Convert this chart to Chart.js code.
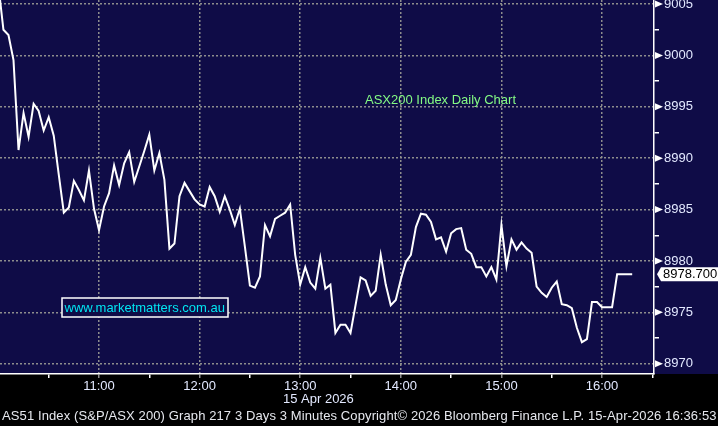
<!DOCTYPE html>
<html lang="en">
<head>
    <meta charset="UTF-8">
    <title>ASX200 Index Daily Chart</title>
    <script src="https://cdn.jsdelivr.net/npm/chart.js"></script>
    <style>
        html, body {
            margin: 0;
            padding: 0;
            background: #000;
        }
        .wrap {
            width: 718px;
            height: 426px;
            position: relative;
        }
    </style>
</head>
<body>
<div class="wrap">
    <canvas id="asx"></canvas>
</div>

<script>
    // 3 minute bars from 10:00, 15 Apr 2026
    const startMinute = 0;      // 10:00
    const stepMinutes = 3;
    const prices = [
        9006.8, 9002.5, 9002.0, 8999.55, 8990.8, 8994.4, 8992.1, 8995.3, 8994.6, 8992.7,
        8994.0, 8992.2, 8988.4, 8984.7, 8985.2, 8987.8, 8986.9, 8985.9, 8988.8, 8985.1,
        8983.0, 8985.3, 8986.6, 8989.3, 8987.4, 8989.5, 8990.6, 8987.7, 8989.2, 8990.7,
        8992.3, 8988.8, 8990.5, 8987.9, 8981.2, 8981.7, 8986.3, 8987.6, 8986.8, 8986.0,
        8985.5, 8985.3, 8987.2, 8986.3, 8984.8, 8986.3, 8985.0, 8983.5, 8985.1, 8981.4,
        8977.6, 8977.4, 8978.5, 8983.5, 8982.4, 8984.1, 8984.4, 8984.7, 8985.5, 8980.6,
        8977.7, 8979.4, 8977.9, 8977.3, 8980.3, 8977.3, 8977.7, 8973.0, 8973.8, 8973.8,
        8973.0, 8975.7, 8978.4, 8978.1, 8976.6, 8977.1, 8980.6, 8977.7, 8975.7, 8976.2,
        8978.2, 8979.9, 8980.6, 8983.3, 8984.6, 8984.5, 8983.8, 8982.1, 8982.3, 8980.9,
        8982.7, 8983.1, 8983.2, 8981.1, 8980.7, 8979.4, 8979.4, 8978.5, 8979.4, 8978.2,
        8983.5, 8979.5, 8982.1, 8981.1, 8981.8, 8981.2, 8980.8, 8977.5, 8976.9, 8976.5,
        8977.4, 8978.0, 8975.8, 8975.7, 8975.4, 8973.5, 8972.1, 8972.4, 8976.0, 8976.0,
        8975.5, 8975.5, 8975.5, 8978.7, 8978.7, 8978.7, 8978.7
    ];
    const lastPrice = 8978.7;

    // axis ticks
    const timeTicks = [30, 60, 90, 120, 150, 180, 210, 240, 270, 300, 330, 360, 390];
    const timeLabels = {60: '11:00', 120: '12:00', 180: '13:00', 240: '14:00', 300: '15:00', 360: '16:00'};
    const priceTicks = [8970, 8972.5, 8975, 8977.5, 8980, 8982.5, 8985, 8987.5, 8990, 8992.5, 8995, 8997.5, 9000, 9002.5, 9005];

    const titleText = 'ASX200 Index Daily Chart';
    const siteText = 'www.marketmatters.com.au';
    const dateText = '15 Apr 2026';
    const footerText = 'AS51 Index (S&P/ASX 200) Graph 217 3 Days 3 Minutes Copyright\u00a9 2026 Bloomberg Finance L.P. 15-Apr-2026 16:36:53';

    const NAVY = '#0f0c47';
    const GRID = '#8d8d8d';
    const LABEL = '#e3e9ff';
    const FONT = '"Liberation Sans", Arial, sans-serif';

    Chart.defaults.font.family = FONT;
    Chart.defaults.font.size = 13;

    const points = prices.map((p, i) => ({x: startMinute + i * stepMinutes, y: p}));

    const isMajorPrice = v => Math.abs(v % 5) < 0.001;

    const bloombergLook = {
        id: 'bloombergLook',
        beforeDraw(chart) {
            const {ctx, width, height, chartArea} = chart;
            ctx.save();
            ctx.fillStyle = '#000';
            ctx.fillRect(0, 0, width, height);
            ctx.fillStyle = NAVY;
            ctx.fillRect(0, 0, width, chartArea.bottom);
            ctx.restore();
        },
        afterDatasetsDraw(chart) {
            const {ctx} = chart;
            const x = chart.scales.x, y = chart.scales.y;
            ctx.save();
            ctx.font = '13px ' + FONT;
            ctx.textBaseline = 'middle';

            // title
            ctx.fillStyle = '#84fb84';
            ctx.fillText(titleText, 365, 100);

            // website box
            ctx.fillStyle = NAVY;
            ctx.fillRect(62, 298, 166, 19);
            ctx.strokeStyle = '#ffffff';
            ctx.lineWidth = 1.5;
            ctx.strokeRect(62, 298, 166, 19);
            ctx.fillStyle = '#00e6f2';
            ctx.fillText(siteText, 64.5, 308, 161);

            // y axis arrows and minor ticks
            ctx.fillStyle = '#ffffff';
            ctx.strokeStyle = '#ffffff';
            priceTicks.forEach(v => {
                const py = y.getPixelForValue(v);
                if (isMajorPrice(v)) {
                    ctx.beginPath();
                    ctx.moveTo(655, py - 3.5);
                    ctx.lineTo(663, py);
                    ctx.lineTo(655, py + 3.5);
                    ctx.closePath();
                    ctx.fill();
                }
            });

            // last price tag
            const ly = y.getPixelForValue(lastPrice);
            ctx.beginPath();
            ctx.moveTo(657, ly);
            ctx.lineTo(661, ly - 7);
            ctx.lineTo(718, ly - 7);
            ctx.lineTo(718, ly + 7);
            ctx.lineTo(661, ly + 7);
            ctx.closePath();
            ctx.fill();
            ctx.fillStyle = '#000000';
            ctx.fillText(lastPrice.toFixed(3), 663, ly + 0.5);

            // date + footer
            ctx.fillStyle = LABEL;
            ctx.fillText(dateText, 283, 399);
            ctx.fillStyle = '#e6e8ee';
            const w = ctx.measureText(footerText).width;
            const spacing = (714 - w) / (footerText.length - 1);
            ctx.letterSpacing = spacing.toFixed(2) + 'px';
            ctx.fillText(footerText, 2, 416);
            ctx.restore();
        }
    };

    new Chart(document.getElementById('asx'), {
        type: 'line',
        data: {
            datasets: [{
                data: points,
                borderColor: '#ffffff',
                borderWidth: 2,
                pointRadius: 0,
                tension: 0,
                fill: false
            }]
        },
        options: {
            responsive: true,
            maintainAspectRatio: false,
            animation: false,
            layout: {padding: 0},
            plugins: {
                legend: {display: false},
                tooltip: {enabled: false}
            },
            scales: {
                x: {
                    type: 'linear',
                    min: 0.95,
                    max: 391,
                    afterBuildTicks: s => { s.ticks = timeTicks.map(v => ({value: v})); },
                    afterFit: s => { s.height = 52; s.paddingLeft = 0; s.paddingRight = 0; },
                    ticks: {
                        autoSkip: false,
                        maxRotation: 0,
                        color: LABEL,
                        padding: 1,
                        callback: v => timeLabels[v] || ''
                    },
                    grid: {
                        color: c => (c.tick && timeLabels[c.tick.value]) ? GRID : 'rgba(0,0,0,0)',
                        tickColor: c => (c.tick && timeLabels[c.tick.value]) ? GRID : '#ffffff',
                        lineWidth: 1.5,
                        tickLength: 4,
                        tickWidth: 1.5
                    },
                    border: {color: '#ffffff', width: 1.5, dash: [2, 2]}
                },
                y: {
                    position: 'right',
                    min: 8969,
                    max: 9005.4,
                    afterBuildTicks: s => { s.ticks = priceTicks.map(v => ({value: v})); },
                    afterFit: s => { s.width = 64; s.paddingTop = 0; s.paddingBottom = 0; },
                    ticks: {
                        autoSkip: false,
                        color: LABEL,
                        padding: 5,
                        callback: v => isMajorPrice(v) ? String(v) : ''
                    },
                    grid: {
                        color: c => (c.tick && isMajorPrice(c.tick.value)) ? GRID : 'rgba(0,0,0,0)',
                        tickColor: c => (c.tick && isMajorPrice(c.tick.value)) ? 'rgba(0,0,0,0)' : '#ffffff',
                        lineWidth: 1.5,
                        tickLength: 5,
                        tickWidth: 1.5
                    },
                    border: {color: '#ffffff', width: 1.5, dash: [2, 2]}
                }
            }
        },
        plugins: [bloombergLook]
    });
</script>
</body>
</html>
